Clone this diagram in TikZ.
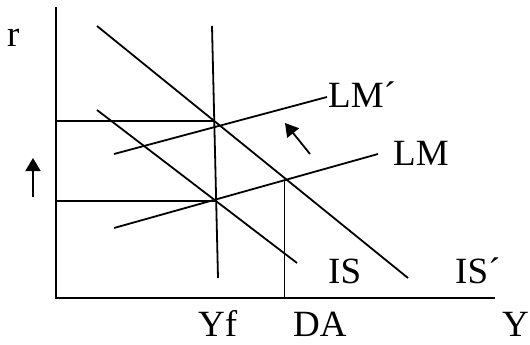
\documentclass[tikz,border=0pt]{standalone}
\usepackage{fontspec}
\setmainfont{Liberation Serif}
\usetikzlibrary{arrows.meta}

\begin{document}
\begin{tikzpicture}[
  x=1pt, y=-1pt,
  curve/.style={line width=1.8pt},
  axis/.style={line width=2.3pt},
  lbl/.style={inner sep=0pt, anchor=base west, font=\fontsize{37}{40}\selectfont},
  >={Triangle[length=13pt,width=15pt]}
]
  \useasboundingbox (0,0) rectangle (530,345);

  % Axes
  \coordinate (o)  at (56,298);
  \coordinate (ry) at (56,7);
  \coordinate (yx) at (495,298);
  \draw[axis] (ry) -- (o) -- (yx);

  % Curve end points
  \coordinate (isa)  at (97,110);  \coordinate (isb)  at (297,263);
  \coordinate (ispa) at (97,26);   \coordinate (ispb) at (408,278);
  \coordinate (lma)  at (114,228); \coordinate (lmb)  at (378,154);
  \coordinate (lmpa) at (114,154); \coordinate (lmpb) at (327,97);
  \coordinate (yfa)  at (212,26);  \coordinate (yfb)  at (218,278);

  % Curves
  \draw[curve] (isa) -- (isb);
  \draw[curve] (ispa) -- (ispb);
  \draw[curve] (lma) -- (lmb);
  \draw[curve] (lmpa) -- (lmpb);
  \draw[curve] (yfa) -- (yfb);

  % Equilibria
  \coordinate (e1) at (intersection of isa--isb and yfa--yfb);
  \coordinate (e2) at (intersection of ispa--ispb and yfa--yfb);
  \coordinate (e3) at (intersection of ispa--ispb and lma--lmb);
  \draw[curve] (e1) -- (e1 -| o);
  \draw[curve] (e2) -- (e2 -| o);
  \draw[curve] ([xshift=-2pt]e3) -- ([xshift=-2pt]e3 |- o);

  % Shift arrows
  \coordinate (ua) at (33,197); \coordinate (ub) at (33,158);
  \coordinate (da) at (310,154); \coordinate (db) at (285,123);
  \draw[curve,->] (ua) -- (ub);
  \draw[curve,->] (da) -- (db);

  % Labels
  \node[lbl] (r)   at (7,47)    {r};
  \node[lbl] (lmp) at (328,107) {LM´};
  \node[lbl] (lm)  at (393,165) {LM};
  \node[lbl] (is)  at (328,283) {IS};
  \node[lbl] (isp) at (455,283) {IS´};
  \node[lbl] (yf)  at (198,336) {Yf};
  \node[lbl] (dа)  at (293,336) {DA};
  \node[lbl] (y)   at (502,336) {Y};
\end{tikzpicture}
\end{document}
